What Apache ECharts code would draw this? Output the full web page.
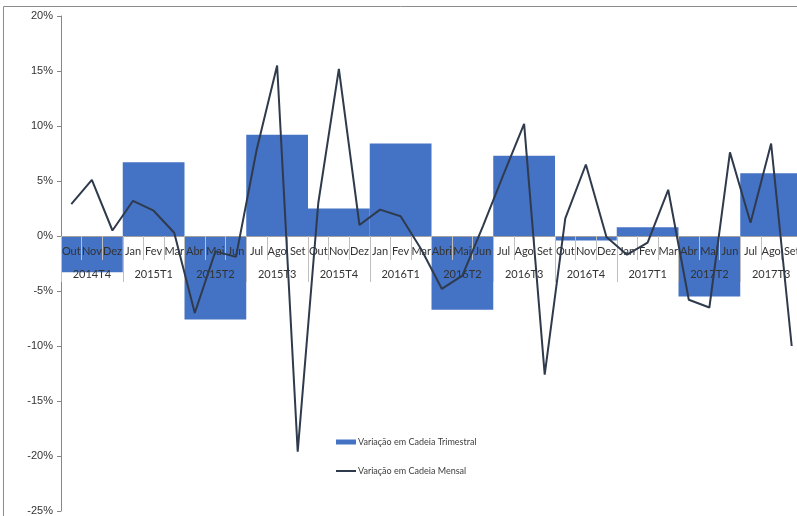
<!DOCTYPE html>
<html>
<head>
<meta charset="utf-8">
<script src="https://cdn.jsdelivr.net/npm/echarts@6/dist/echarts.min.js"></script>
<style>
html,body{margin:0;padding:0;background:#fff;}
#chart{width:797px;height:516px;}
</style>
</head>
<body>
<div id="chart"></div>
<script>
// Month labels (36 months, Oct 2014 – Sep 2017)
const months = ['Out','Nov','Dez','Jan','Fev','Mar','Abr','Mai','Jun','Jul','Ago','Set',
  'Out','Nov','Dez','Jan','Fev','Mar','Abri','Mai','Jun','Jul','Ago','Set',
  'Out','Nov','Dez','Jan','Fev','Mar','Abr','Mai','Jun','Jul','Ago','Set'];
// Quarter labels
const quarters = ['2014T4','2015T1','2015T2','2015T3','2015T4','2016T1','2016T2','2016T3','2016T4','2017T1','2017T2','2017T3'];
// Variação em Cadeia Trimestral (%)
const quarterlyChange = [-3.3, 6.7, -7.6, 9.2, 2.5, 8.4, -6.7, 7.3, -0.4, 0.8, -5.5, 5.7];
// Variação em Cadeia Mensal (%)
const monthlyChange = [2.9, 5.1, 0.5,
  3.2, 2.3, 0.3, -7.0, -1.4, -1.9, 7.8, 15.5, -19.6, 3.0, 15.2, 1.0,
  2.4, 1.8, -1.2, -4.8, -3.6, 0.9, 5.6, 10.2, -12.6, 1.6, 6.5, -0.1,
  -1.7, -0.6, 4.2, -5.8, -6.5, 7.6, 1.2, 8.4, -10.0];
// Y axis range / ticks (%)
const yMin = -25, yMax = 20, yStep = 5;

const gridTop = 16, gridHeight = 495;
// category axes sit on the zero line: shift them up from the grid bottom
const zeroOffset = -gridHeight * (0 - yMin) / (yMax - yMin);

const chart = echarts.init(document.getElementById('chart'), null, {renderer: 'canvas'});
const labelFont = 'Lato, "Open Sans", sans-serif';
chart.setOption({
  animation: false,
  backgroundColor: '#ffffff',
  graphic: [{
    type: 'rect', z: 0, silent: true,
    shape: {x: 3.5, y: 6.5, width: 900, height: 600},
    style: {fill: 'none', stroke: '#8c8c8c', lineWidth: 1}
  }],
  grid: {left: 61, width: 741, top: gridTop, height: gridHeight, containLabel: false, outerBoundsMode: 'none'},
  legend: {
    orient: 'vertical', left: 335, top: 436, padding: 0,
    itemWidth: 20, itemHeight: 5, itemGap: 17,
    textStyle: {fontFamily: labelFont, fontSize: 9, color: '#404040', lineHeight: 12, padding: [0, 0, 0, -3]},
    data: [
      {name: 'Variação em Cadeia Trimestral', icon: 'rect'},
      {name: 'Variação em Cadeia Mensal', itemStyle: {opacity: 0}}
    ]
  },
  xAxis: [{
    type: 'category', position: 'bottom', data: months, z: 5,
    offset: zeroOffset,
    boundaryGap: true,
    axisLine: {show: true, onZero: false, lineStyle: {color: '#a0a0a0', width: 1}},
    axisTick: {show: true, length: 24, interval: 0, lineStyle: {color: '#bfbfbf'}},
    axisLabel: {interval: 0, margin: 10, fontFamily: labelFont, fontSize: 11, color: '#333'},
    splitLine: {show: false}
  }, {
    type: 'category', position: 'bottom', data: quarters, z: 5,
    offset: zeroOffset,
    boundaryGap: true,
    axisLine: {show: false, onZero: false},
    axisTick: {show: true, length: 46, interval: 0, lineStyle: {color: '#bfbfbf'}},
    axisLabel: {interval: 0, margin: 33, fontFamily: labelFont, fontSize: 11, color: '#333'},
    splitLine: {show: false}
  }],
  yAxis: {
    type: 'value', min: yMin, max: yMax, interval: yStep,
    axisLine: {show: true, lineStyle: {color: '#868686'}},
    axisTick: {show: true, length: 4, lineStyle: {color: '#868686'}},
    axisLabel: {margin: 8, fontFamily: '"Liberation Sans", Arial, sans-serif', fontSize: 11, color: '#333',
      formatter: v => v + '%'},
    splitLine: {show: false}
  },
  series: [{
    name: 'Variação em Cadeia Trimestral',
    type: 'bar', xAxisIndex: 1, yAxisIndex: 0, z: 2,
    barWidth: '100%', barCategoryGap: '0%',
    itemStyle: {color: '#4472c4'},
    data: quarterlyChange
  }, {
    name: 'Variação em Cadeia Mensal',
    type: 'line', xAxisIndex: 0, yAxisIndex: 0, z: 20,
    symbol: 'none', smooth: false,
    lineStyle: {color: '#2f3b4c', width: 2},
    itemStyle: {color: '#2f3b4c'},
    data: monthlyChange
  }]
});
</script>
</body>
</html>
